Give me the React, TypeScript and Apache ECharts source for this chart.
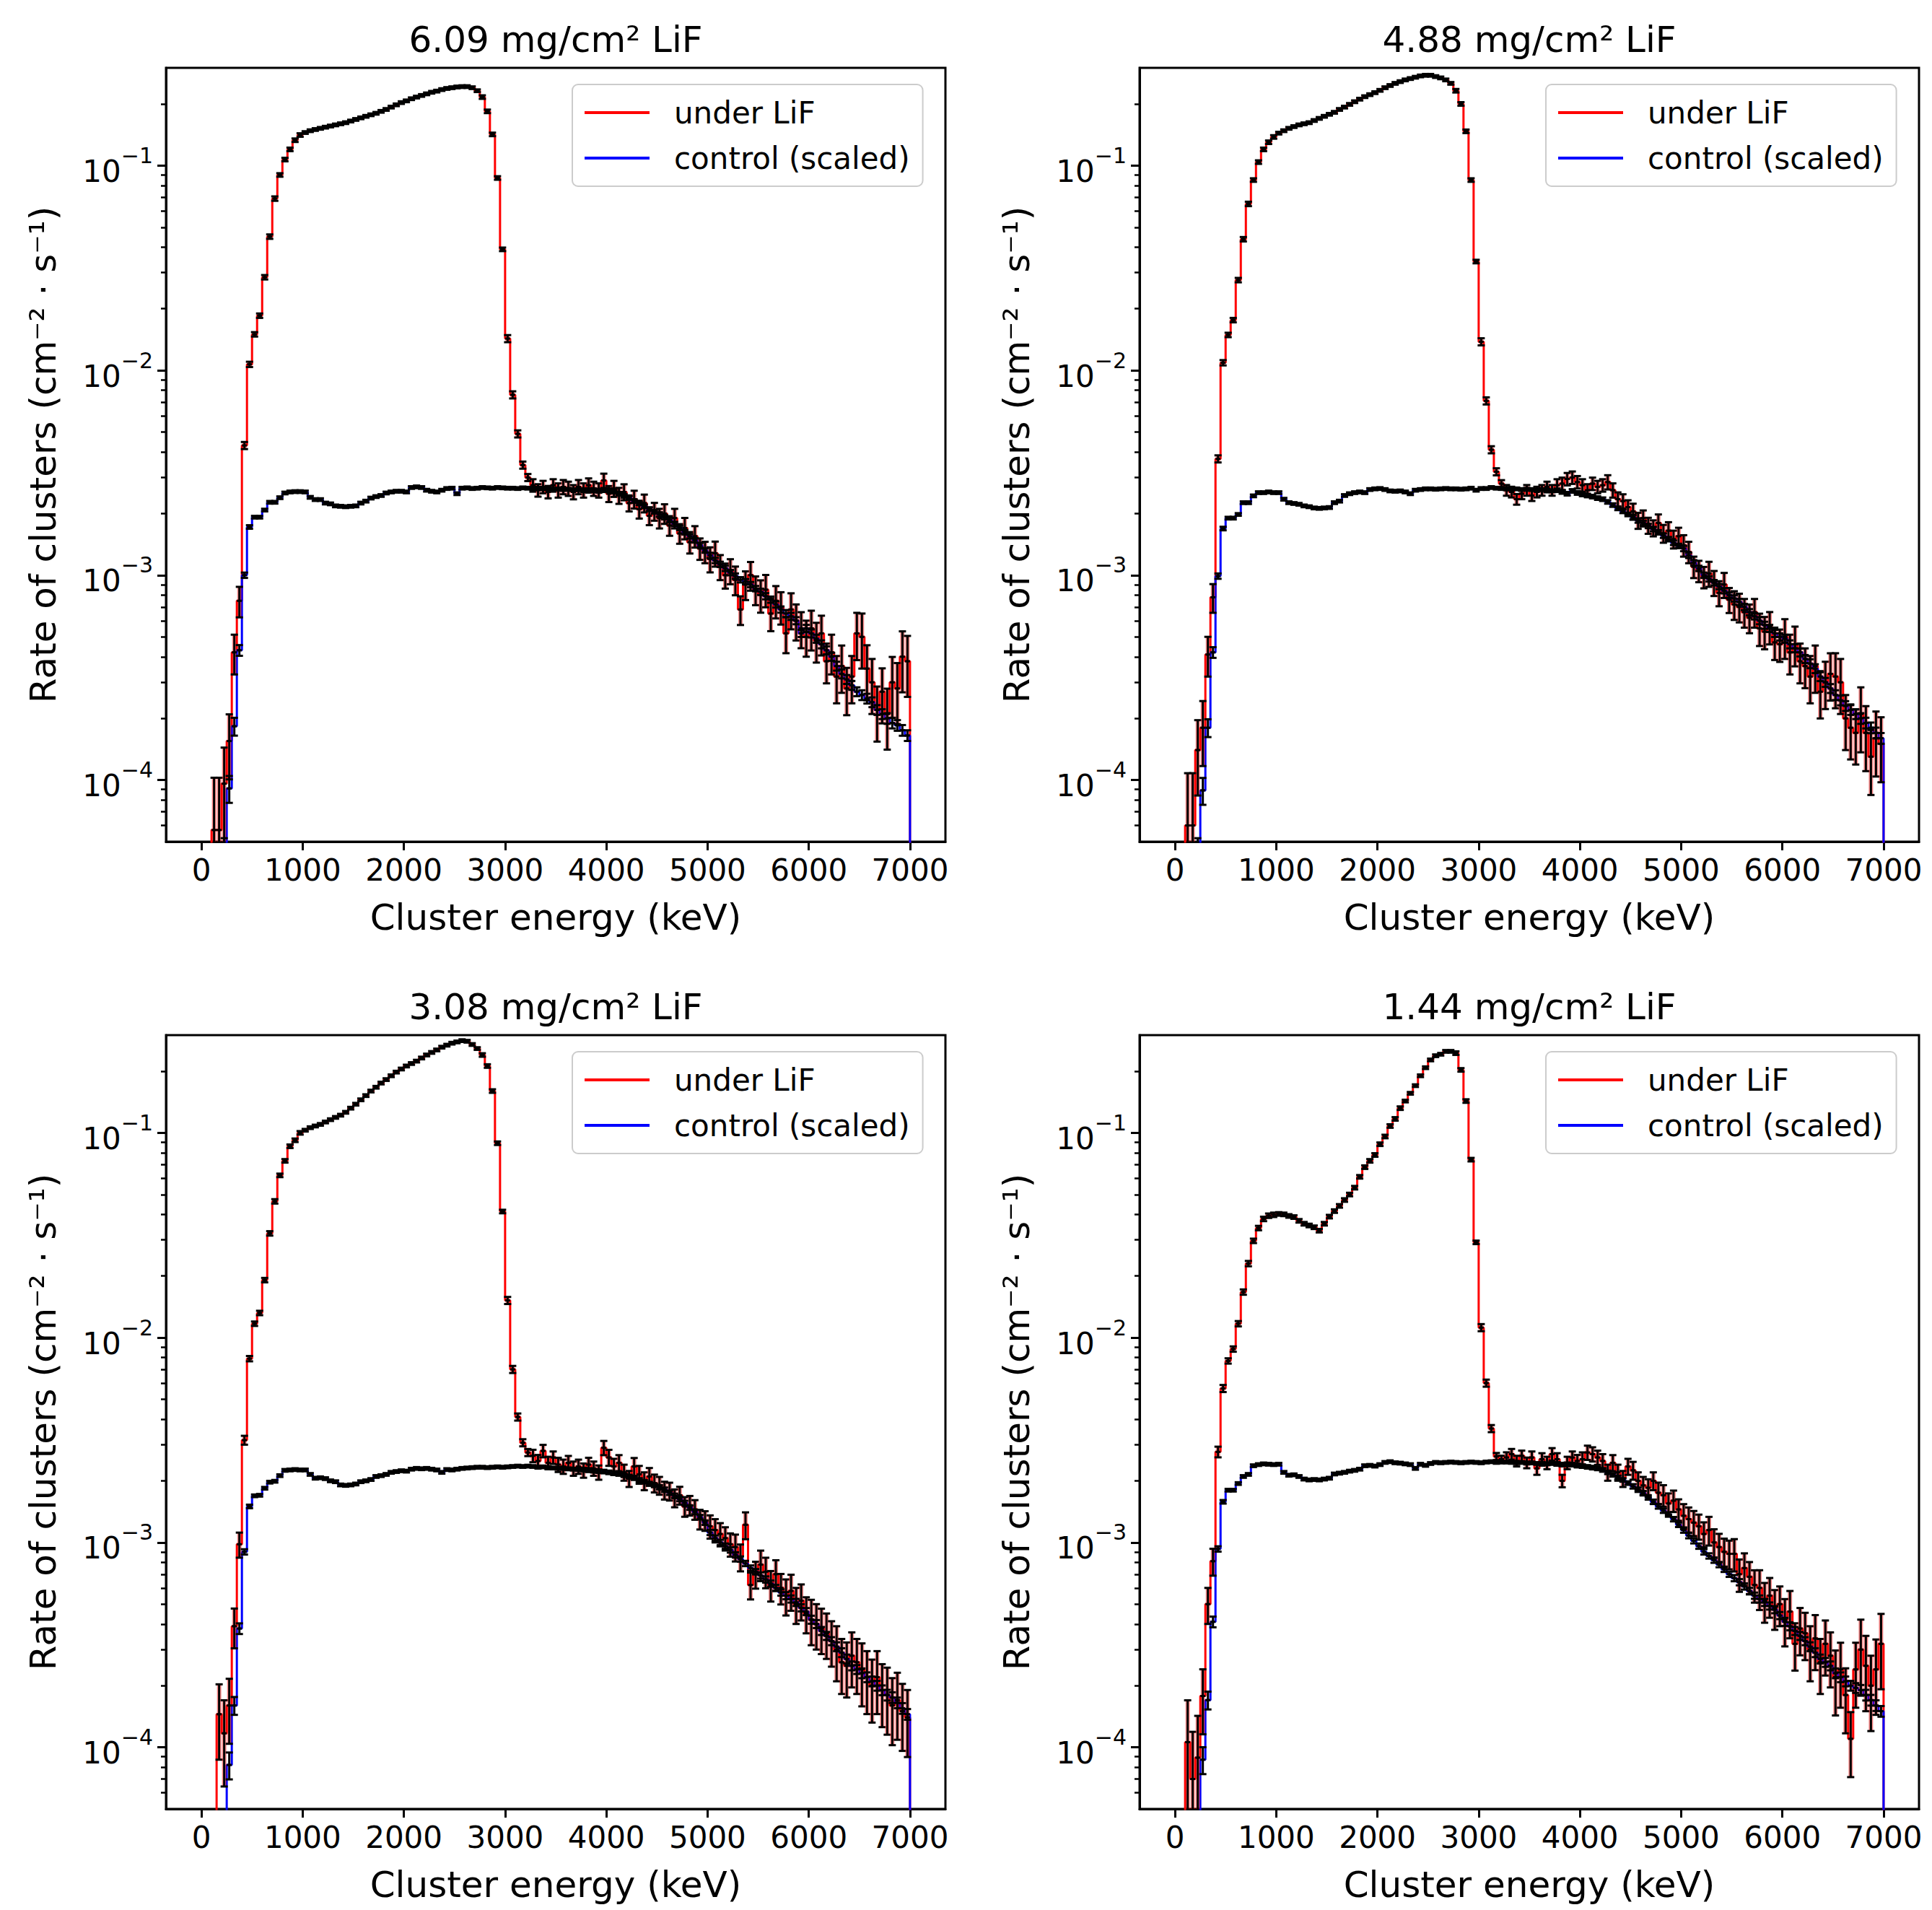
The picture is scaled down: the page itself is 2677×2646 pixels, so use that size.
import React, { useEffect, useRef } from 'react'
import * as echarts from 'echarts'

// histogram bins are 50 keV wide, 0 .. 7000 keV (140 bins)
const BIN_WIDTH = 50
// rates below are given in units of 1e-3 cm^-2 s^-1
const UNIT = 1e-3
const FLOOR = 1e-7

const panelTitles = ['6.09 mg/cm² LiF', '4.88 mg/cm² LiF', '3.08 mg/cm² LiF', '1.44 mg/cm² LiF']

const under609 = [
  0, 0, 0.057, 0.057, 0.096, 0.155, 0.42, 0.75, 4.3, 10.7,
  15, 18.5, 28.5, 45, 69, 90, 107, 120, 133, 141,
  145, 148, 150, 152, 154, 156, 158, 160, 162, 165,
  168, 171, 174, 177, 180, 184, 188, 193, 198, 203,
  207, 212, 216, 220, 224, 228, 231, 235, 238, 240,
  242, 243, 243, 240, 232, 216, 184, 142, 87, 39,
  14.3, 7.6, 4.9, 3.45, 3.0, 2.75, 2.6, 2.7, 2.55, 2.75,
  2.6, 2.7, 2.65, 2.55, 2.7, 2.6, 2.75, 2.65, 2.6, 2.9,
  2.5, 2.65, 2.45, 2.55, 2.25, 2.35, 2.1, 2.25, 1.95, 2.05,
  1.9, 2.0, 1.75, 1.9, 1.6, 1.7, 1.45, 1.55, 1.35, 1.3,
  1.2, 1.28, 1.1, 1.0, 1.05, 0.95, 0.68, 0.9, 1.0, 0.85,
  0.8, 0.85, 0.65, 0.75, 0.7, 0.52, 0.68, 0.6, 0.55, 0.5,
  0.55, 0.48, 0.52, 0.38, 0.42, 0.32, 0.36, 0.28, 0.32, 0.52,
  0.5, 0.35, 0.3, 0.22, 0.27, 0.21, 0.3, 0.28, 0.4, 0.38,
]
const control609 = [
  0, 0, 0, 0, 0.04, 0.091, 0.183, 0.43, 1.0, 1.72,
  1.92, 1.92, 2.08, 2.27, 2.27, 2.39, 2.52, 2.55, 2.56, 2.56,
  2.55, 2.4, 2.34, 2.34, 2.25, 2.23, 2.18, 2.17, 2.16, 2.17,
  2.18, 2.25, 2.3, 2.38, 2.42, 2.45, 2.52, 2.55, 2.57, 2.57,
  2.55, 2.68, 2.7, 2.68, 2.6, 2.57, 2.55, 2.6, 2.65, 2.66,
  2.5, 2.66, 2.67, 2.65, 2.66, 2.68, 2.67, 2.66, 2.68, 2.67,
  2.66, 2.66, 2.65, 2.67, 2.66, 2.65, 2.66, 2.64, 2.65, 2.63,
  2.64, 2.62, 2.63, 2.61, 2.62, 2.6, 2.61, 2.6, 2.58, 2.6,
  2.6, 2.56, 2.5, 2.44, 2.38, 2.3, 2.24, 2.17, 2.1, 2.04,
  1.98, 1.92, 1.86, 1.78, 1.7, 1.62, 1.55, 1.48, 1.4, 1.32,
  1.25, 1.18, 1.13, 1.08, 1.03, 0.99, 0.95, 0.93, 0.9, 0.86,
  0.83, 0.79, 0.76, 0.72, 0.68, 0.65, 0.63, 0.6, 0.52, 0.55,
  0.52, 0.49, 0.46, 0.43, 0.4, 0.36, 0.33, 0.31, 0.29, 0.27,
  0.26, 0.25, 0.24, 0.22, 0.21, 0.2, 0.19, 0.185, 0.175, 0.165,
]

const under488 = [
  0, 0, 0.06, 0.06, 0.14, 0.18, 0.41, 0.78, 3.7, 10.9,
  14.9, 17.6, 27.6, 43.7, 65, 85, 104, 120, 130, 138,
  144, 148, 152, 155, 158, 160, 162, 166, 170, 174,
  178, 182, 188, 193, 199, 205, 211, 217, 222, 227,
  233, 240, 246, 252, 257, 262, 266, 270, 274, 276,
  276, 272, 268, 262, 252, 232, 200, 147, 85, 34,
  13.8, 7.1, 4.1, 3.2, 2.8, 2.6, 2.55, 2.35, 2.5, 2.6,
  2.45, 2.55, 2.6, 2.7, 2.6, 2.75, 2.8, 2.95, 3.0, 2.85,
  2.75, 2.6, 2.8, 2.7, 2.75, 2.85, 2.6, 2.35, 2.3, 2.15,
  2.05, 1.85, 1.9, 1.75, 1.7, 1.8, 1.6, 1.65, 1.5, 1.55,
  1.4, 1.3, 1.1, 1.05, 0.98, 1.02, 0.92, 0.82, 0.9, 0.76,
  0.72, 0.7, 0.66, 0.62, 0.66, 0.55, 0.53, 0.56, 0.47, 0.46,
  0.5, 0.42, 0.46, 0.38, 0.36, 0.32, 0.36, 0.27, 0.3, 0.33,
  0.32, 0.3, 0.2, 0.18, 0.17, 0.21, 0.17, 0.13, 0.16, 0.15,
]
const control488 = [
  0, 0, 0, 0, 0.04, 0.089, 0.18, 0.42, 0.99, 1.69,
  1.9, 1.9, 1.98, 2.26, 2.26, 2.44, 2.53, 2.53, 2.55, 2.53,
  2.53, 2.35, 2.26, 2.24, 2.22, 2.18, 2.16, 2.13, 2.12, 2.13,
  2.14, 2.26, 2.3, 2.45, 2.5, 2.53, 2.55, 2.53, 2.62, 2.64,
  2.65, 2.62, 2.58, 2.57, 2.58, 2.55, 2.5, 2.6, 2.62, 2.64,
  2.64, 2.63, 2.64, 2.65, 2.64, 2.64, 2.63, 2.64, 2.66, 2.6,
  2.65, 2.65, 2.68, 2.66, 2.65, 2.64, 2.63, 2.64, 2.62, 2.63,
  2.62, 2.6, 2.62, 2.6, 2.58, 2.6, 2.55, 2.5, 2.58, 2.52,
  2.48, 2.45, 2.42, 2.38, 2.35, 2.28, 2.2, 2.12, 2.05, 1.98,
  1.92, 1.85, 1.8, 1.74, 1.68, 1.62, 1.56, 1.5, 1.44, 1.39,
  1.35, 1.25, 1.15, 1.08, 1.0, 0.96, 0.92, 0.88, 0.84, 0.8,
  0.77, 0.74, 0.7, 0.66, 0.63, 0.6, 0.57, 0.55, 0.52, 0.5,
  0.49, 0.46, 0.44, 0.42, 0.39, 0.37, 0.35, 0.32, 0.3, 0.28,
  0.26, 0.245, 0.23, 0.22, 0.21, 0.2, 0.19, 0.18, 0.17, 0.16,
]

const under308 = [
  0, 0, 0, 0.145, 0.117, 0.16, 0.39, 0.98, 3.16, 7.9,
  11.7, 13.2, 19.1, 32.3, 46.3, 62, 73, 86, 92, 100,
  103, 106, 108, 110, 113, 116, 119, 122, 126, 132,
  138, 145, 152, 160, 167, 175, 182, 190, 198, 205,
  212, 218, 224, 232, 240, 247, 254, 262, 268, 274,
  278, 282, 280, 270, 258, 240, 212, 160, 89, 41.3,
  15.2, 7.0, 4.1, 3.07, 2.75, 2.65, 2.5, 2.8, 2.45, 2.6,
  2.4, 2.35, 2.45, 2.3, 2.35, 2.25, 2.4, 2.3, 2.2, 2.9,
  2.6, 2.35, 2.45, 2.2, 2.05, 2.35, 2.15, 2.0, 2.1, 1.95,
  1.9, 1.8, 1.78, 1.65, 1.7, 1.5, 1.52, 1.45, 1.3, 1.28,
  1.2, 1.15, 1.1, 1.05, 0.98, 0.95, 0.85, 1.22, 0.62, 0.7,
  0.78, 0.72, 0.62, 0.7, 0.6, 0.55, 0.58, 0.5, 0.52, 0.45,
  0.42, 0.4, 0.38, 0.36, 0.33, 0.3, 0.26, 0.25, 0.28, 0.26,
  0.24, 0.22, 0.2, 0.22, 0.19, 0.18, 0.16, 0.17, 0.15, 0.14,
]
const control308 = [
  0, 0, 0, 0, 0.03, 0.082, 0.16, 0.38, 0.9, 1.5,
  1.69, 1.7, 1.84, 1.97, 1.99, 2.12, 2.25, 2.26, 2.27, 2.26,
  2.26, 2.15, 2.06, 2.07, 2.05, 2.0, 1.98, 1.91, 1.9, 1.91,
  1.93, 1.98, 2.0, 2.03, 2.1, 2.12, 2.15, 2.2, 2.22, 2.24,
  2.23, 2.28, 2.3, 2.29, 2.3, 2.28, 2.26, 2.2, 2.27, 2.26,
  2.28, 2.3, 2.31, 2.32, 2.33, 2.33, 2.32, 2.33, 2.34, 2.33,
  2.34, 2.35, 2.36, 2.35, 2.36, 2.35, 2.33, 2.34, 2.32, 2.31,
  2.3, 2.3, 2.29, 2.28, 2.27, 2.27, 2.26, 2.24, 2.23, 2.22,
  2.2, 2.18, 2.16, 2.13, 2.1, 2.06, 2.02, 1.98, 1.94, 1.9,
  1.86, 1.81, 1.75, 1.69, 1.63, 1.56, 1.48, 1.41, 1.33, 1.25,
  1.12, 1.05, 1.0, 0.96, 0.92, 0.87, 0.83, 0.79, 0.75, 0.72,
  0.69, 0.66, 0.63, 0.6, 0.57, 0.55, 0.53, 0.51, 0.48, 0.46,
  0.42, 0.4, 0.37, 0.35, 0.33, 0.31, 0.29, 0.27, 0.25, 0.24,
  0.23, 0.22, 0.21, 0.2, 0.19, 0.18, 0.175, 0.165, 0.155, 0.145,
]

const under144 = [
  0, 0, 0.106, 0.07, 0.089, 0.178, 0.5, 0.81, 2.77, 5.65,
  7.7, 8.8, 11.7, 16.7, 23, 29.7, 34.3, 38, 39.4, 39.8,
  40.2, 40, 39.3, 38.8, 37.2, 36, 35.3, 34.6, 33.3, 36,
  39, 41.5, 44, 47, 50, 54, 61, 68, 73, 78,
  88, 96, 108, 117, 132, 143, 156, 170, 190, 208,
  227, 238, 242, 250, 250, 245, 203, 143, 74, 29.2,
  11.2, 6.0, 3.6, 2.63, 2.55, 2.6, 2.7, 2.5, 2.65, 2.45,
  2.6, 2.3, 2.55, 2.45, 2.7, 2.55, 2.0, 2.45, 2.6, 2.5,
  2.55, 2.75, 2.7, 2.6, 2.5, 2.2, 2.45, 2.2, 2.05, 2.35,
  2.25, 2.0, 1.9, 1.85, 2.0, 1.75, 1.7, 1.55, 1.6, 1.45,
  1.35, 1.3, 1.25, 1.2, 1.1, 1.15, 1.0, 0.95, 0.9, 0.88,
  0.88, 0.7, 0.75, 0.68, 0.62, 0.6, 0.52, 0.55, 0.48, 0.5,
  0.42, 0.46, 0.32, 0.38, 0.36, 0.3, 0.34, 0.26, 0.32, 0.28,
  0.22, 0.24, 0.18, 0.11, 0.24, 0.3, 0.25, 0.2, 0.24, 0.32,
]
const control144 = [
  0, 0, 0, 0, 0.03, 0.087, 0.17, 0.41, 0.93, 1.58,
  1.8, 1.8, 1.94, 2.1, 2.15, 2.37, 2.4, 2.42, 2.41, 2.4,
  2.41, 2.2, 2.13, 2.14, 2.1, 2.04, 2.02, 2.03, 2.02, 2.04,
  2.06, 2.16, 2.18, 2.2, 2.23, 2.25, 2.28, 2.37, 2.38, 2.36,
  2.4, 2.46, 2.48, 2.45, 2.44, 2.42, 2.4, 2.3, 2.41, 2.38,
  2.43, 2.46, 2.45, 2.46, 2.47, 2.46, 2.45, 2.46, 2.47, 2.46,
  2.45, 2.47, 2.48, 2.46, 2.47, 2.47, 2.46, 2.45, 2.46, 2.44,
  2.45, 2.43, 2.44, 2.42, 2.43, 2.42, 2.4, 2.41, 2.4, 2.38,
  2.36, 2.34, 2.32, 2.3, 2.26, 2.2, 2.14, 2.08, 2.02, 1.95,
  1.88, 1.81, 1.74, 1.66, 1.58, 1.5, 1.43, 1.37, 1.3, 1.22,
  1.15, 1.08, 1.02, 0.96, 0.9, 0.86, 0.82, 0.78, 0.74, 0.7,
  0.67, 0.64, 0.61, 0.58, 0.55, 0.53, 0.51, 0.49, 0.47, 0.44,
  0.41, 0.39, 0.37, 0.35, 0.33, 0.31, 0.29, 0.27, 0.26, 0.25,
  0.23, 0.22, 0.21, 0.2, 0.195, 0.19, 0.18, 0.17, 0.16, 0.15,
]

// relative errors: first 10 entries per bin (0-500 keV), then one entry per 250 keV block
const relErrUnder609 = [
  0, 0, 0.8, 0.8, 0.5, 0.35, 0.22, 0.17, 0.04, 0.03,
  0.025, 0.02, 0.015, 0.015, 0.015, 0.015, 0.015, 0.015, 0.015, 0.02,
  0.04, 0.07, 0.08, 0.08, 0.09, 0.1, 0.11, 0.12, 0.14, 0.16, 0.18, 0.2, 0.22, 0.26, 0.3, 0.33,
]
const relErrUnder488 = [
  0, 0, 0.8, 0.8, 0.4, 0.35, 0.22, 0.16, 0.04, 0.03,
  0.025, 0.02, 0.015, 0.015, 0.015, 0.015, 0.015, 0.015, 0.015, 0.02,
  0.04, 0.06, 0.06, 0.07, 0.07, 0.08, 0.09, 0.1, 0.12, 0.14, 0.16, 0.18, 0.22, 0.26, 0.3, 0.35,
]
const relErrUnder308 = [
  0, 0, 0, 0.4, 0.45, 0.35, 0.22, 0.14, 0.05, 0.03,
  0.025, 0.02, 0.015, 0.015, 0.015, 0.015, 0.015, 0.015, 0.015, 0.02,
  0.04, 0.07, 0.08, 0.08, 0.09, 0.1, 0.1, 0.11, 0.13, 0.15, 0.17, 0.2, 0.25, 0.3, 0.34, 0.36,
]
const relErrUnder144 = [
  0, 0, 0.6, 0.7, 0.6, 0.35, 0.2, 0.15, 0.06, 0.04,
  0.03, 0.025, 0.02, 0.02, 0.02, 0.02, 0.02, 0.015, 0.015, 0.02,
  0.04, 0.06, 0.07, 0.07, 0.08, 0.09, 0.1, 0.12, 0.14, 0.16, 0.18, 0.22, 0.26, 0.3, 0.35, 0.4,
]
const relErrControl = [
  0, 0, 0, 0, 0.3, 0.15, 0.1, 0.06, 0.03, 0.02,
  0.015, 0.015, 0.015, 0.015, 0.015, 0.015, 0.015, 0.015, 0.015, 0.015,
  0.015, 0.015, 0.015, 0.02, 0.02, 0.02, 0.025, 0.025, 0.03, 0.03, 0.035, 0.04, 0.045, 0.05, 0.055, 0.06,
]

const xTicks = [0, 1000, 2000, 3000, 4000, 5000, 6000, 7000]
const yTicks = [1e-4, 1e-3, 1e-2, 1e-1]
const X_MIN = -350
const X_MAX = 7350
const Y_MIN = 5e-5
const Y_MAX = 0.3

const yMinorTicks: number[] = []
for (let e = -5; e <= -1; e++) {
  for (let m = 2; m <= 9; m++) {
    const v = Number((m * Math.pow(10, e)).toPrecision(3))
    if (v > Y_MIN && v < Y_MAX) yMinorTicks.push(v)
  }
}

const panels = [
  { title: panelTitles[0], under: under609, control: control609, underErr: relErrUnder609 },
  { title: panelTitles[1], under: under488, control: control488, underErr: relErrUnder488 },
  { title: panelTitles[2], under: under308, control: control308, underErr: relErrUnder308 },
  { title: panelTitles[3], under: under144, control: control144, underErr: relErrUnder144 },
]

// layout
const FONT = 'DejaVu Sans'
const GRID_W = 1080
const GRID_H = 1072
const gridLefts = [230, 1579, 230, 1579]
const gridTops = [94, 94, 1434, 1434]

const relErrAt = (arr: number[], i: number) => (i < 10 ? arr[i] : arr[10 + Math.floor((i - 10) / 5)])

const stepPoints = (values: number[]) => {
  const pts: number[][] = [[0, FLOOR]]
  values.forEach((v, i) => {
    const y = v > 0 ? v * UNIT : FLOOR
    pts.push([i * BIN_WIDTH, y], [(i + 1) * BIN_WIDTH, y])
  })
  pts.push([values.length * BIN_WIDTH, FLOOR])
  return pts
}

const errorPoints = (values: number[], rel: number[]) => {
  const out: number[][] = []
  values.forEach((v, i) => {
    if (v <= 0) return
    const y = v * UNIT
    const r = relErrAt(rel, i)
    out.push([i * BIN_WIDTH, (i + 1) * BIN_WIDTH, y, Math.max(y * (1 - r), FLOOR), y * (1 + r)])
  })
  return out
}

const makeErrorRenderer = (shade: boolean) => (params: any, api: any) => {
  const x0 = api.value(0)
  const x1 = api.value(1)
  const v = api.value(2)
  const xc = (x0 + x1) / 2
  const l = api.coord([x0, v])
  const r = api.coord([x1, v])
  const top = api.coord([xc, api.value(4)])
  const bot = api.coord([xc, api.value(3)])
  const black = { stroke: '#000', lineWidth: 3 }
  const cap = 5
  const children: any[] = []
  if (shade) {
    children.push({
      type: 'rect',
      shape: { x: top[0] - 3, y: top[1], width: 6, height: bot[1] - top[1] },
      style: { fill: 'rgba(255,0,0,0.45)' },
    })
  }
  children.push(
    { type: 'line', shape: { x1: l[0], y1: l[1], x2: r[0], y2: r[1] }, style: black },
    { type: 'line', shape: { x1: top[0], y1: top[1], x2: bot[0], y2: bot[1] }, style: black },
    { type: 'line', shape: { x1: top[0] - cap, y1: top[1], x2: top[0] + cap, y2: top[1] }, style: black },
    { type: 'line', shape: { x1: bot[0] - cap, y1: bot[1], x2: bot[0] + cap, y2: bot[1] }, style: black },
  )
  return { type: 'group', children }
}

const supLabel = (v: number) => {
  const e = Math.round(Math.log10(v))
  return `{b|10}{s|${e < 0 ? '\u2212' : ''}${Math.abs(e)}}`
}

const App: React.FC = () => {
  const chartRef = useRef<HTMLDivElement>(null)

  useEffect(() => {
    if (!chartRef.current) return
    const chart = echarts.init(chartRef.current, undefined, { renderer: 'svg' })

    const grids = panels.map((_, k) => ({
      left: gridLefts[k],
      top: gridTops[k],
      width: GRID_W,
      height: GRID_H,
      show: true,
      borderColor: '#000',
      borderWidth: 3,
      backgroundColor: 'transparent',
    }))

    const xAxes = panels.map((_, k) => ({
      type: 'value',
      gridIndex: k,
      min: X_MIN,
      max: X_MAX,
      name: 'Cluster energy (keV)',
      nameLocation: 'middle',
      nameGap: 80,
      nameTextStyle: { fontSize: 50, fontFamily: FONT, color: '#000' },
      axisLine: { onZero: false, lineStyle: { color: '#000', width: 3 } },
      axisTick: { customValues: xTicks, length: 12, lineStyle: { color: '#000', width: 3 } },
      axisLabel: {
        customValues: xTicks,
        fontSize: 42,
        fontFamily: FONT,
        color: '#000',
        margin: 18,
        formatter: (v: number) => String(v),
      },
      splitLine: { show: false },
    }))

    const yAxes: any[] = panels.map((_, k) => ({
      type: 'log',
      logBase: 10,
      gridIndex: k,
      min: Y_MIN,
      max: Y_MAX,
      name: 'Rate of clusters (cm\u207B\u00B2 \u00B7 s\u207B\u00B9)',
      nameLocation: 'middle',
      nameGap: 145,
      nameTextStyle: { fontSize: 50, fontFamily: FONT, color: '#000' },
      axisLine: { onZero: false, lineStyle: { color: '#000', width: 3 } },
      axisTick: { customValues: yTicks, length: 12, lineStyle: { color: '#000', width: 3 } },
      axisLabel: {
        customValues: yTicks,
        margin: 18,
        formatter: supLabel,
        rich: {
          b: { fontSize: 42, fontFamily: FONT, color: '#000', lineHeight: 58, verticalAlign: 'bottom' },
          s: { fontSize: 30, fontFamily: FONT, color: '#000', lineHeight: 30, verticalAlign: 'top' },
        },
      },
      splitLine: { show: false },
    }))
    // minor ticks of the log axes
    panels.forEach((_, k) => {
      yAxes.push({
        type: 'log',
        logBase: 10,
        gridIndex: k,
        min: Y_MIN,
        max: Y_MAX,
        position: 'left',
        axisLine: { show: false, onZero: false },
        axisTick: { customValues: yMinorTicks, length: 7, lineStyle: { color: '#000', width: 2.5 } },
        axisLabel: { show: false },
        splitLine: { show: false },
      })
    })

    const series: any[] = []
    panels.forEach((p, k) => {
      series.push({
        name: 'under LiF',
        type: 'line',
        xAxisIndex: k,
        yAxisIndex: k,
        data: stepPoints(p.under),
        color: '#ff0000',
        showSymbol: false,
        symbol: 'none',
        lineStyle: { color: '#ff0000', width: 3 },
        clip: true,
        silent: true,
        z: 2,
      })
      series.push({
        name: 'control (scaled)',
        type: 'line',
        xAxisIndex: k,
        yAxisIndex: k,
        data: stepPoints(p.control),
        color: '#0000ff',
        showSymbol: false,
        symbol: 'none',
        lineStyle: { color: '#0000ff', width: 3 },
        clip: true,
        silent: true,
        z: 3,
      })
      series.push({
        name: 'err-under-' + k,
        type: 'custom',
        xAxisIndex: k,
        yAxisIndex: k,
        data: errorPoints(p.under, p.underErr),
        encode: { x: [0, 1], y: [2, 3, 4] },
        renderItem: makeErrorRenderer(true),
        clip: true,
        silent: true,
        z: 4,
      })
      series.push({
        name: 'err-control-' + k,
        type: 'custom',
        xAxisIndex: k,
        yAxisIndex: k,
        data: errorPoints(p.control, relErrControl),
        encode: { x: [0, 1], y: [2, 3, 4] },
        renderItem: makeErrorRenderer(false),
        clip: true,
        silent: true,
        z: 5,
      })
    })

    const legends = panels.map((_, k) => ({
      left: gridLefts[k] + 563,
      top: gridTops[k] + 23,
      orient: 'vertical',
      data: ['under LiF', 'control (scaled)'],
      icon: 'rect',
      itemWidth: 90,
      itemHeight: 4,
      itemGap: 13,
      selectedMode: false,
      padding: [14, 18, 14, 17],
      backgroundColor: 'rgba(255,255,255,0.8)',
      borderColor: '#cccccc',
      borderWidth: 2,
      borderRadius: 8,
      textStyle: { fontSize: 42, fontFamily: FONT, color: '#000', lineHeight: 50, padding: [0, 0, 0, 29] },
    }))

    const titles = panels.map((p, k) => ({
      type: 'text',
      x: gridLefts[k] + GRID_W / 2,
      y: gridTops[k] - 39,
      style: {
        text: p.title,
        fontSize: 50,
        fontFamily: FONT,
        fill: '#000',
        align: 'center',
        verticalAlign: 'middle',
        textAlign: 'center',
        textVerticalAlign: 'middle',
      },
    }))

    chart.setOption({
      animation: false,
      backgroundColor: '#ffffff',
      textStyle: { fontFamily: FONT },
      grid: grids,
      xAxis: xAxes,
      yAxis: yAxes,
      legend: legends,
      graphic: titles,
      series,
    })

    return () => {
      chart.dispose()
    }
  }, [])

  return (
    <div
      ref={chartRef}
      style={{ position: 'absolute', left: 0, top: 0, width: '2677px', height: '2646px', background: '#fff' }}
    />
  )
}

export default App
